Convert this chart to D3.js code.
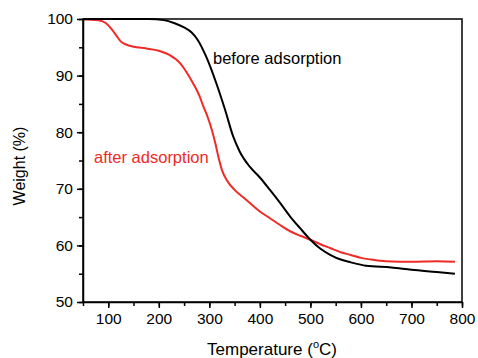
<!DOCTYPE html>
<html>
<head>
<meta charset="utf-8">
<script src="https://cdn.jsdelivr.net/npm/d3@7"></script>
<style>
  body { margin: 0; background: #fff; }
  text { font-family: "Liberation Sans", Arial, sans-serif; }
</style>
</head>
<body>
<svg id="chart" width="478" height="358"></svg>
<script>
// before adsorption (black)
let beforeTemp = [50, 100, 150, 180, 210, 230, 250, 265, 277, 294, 314, 331, 347, 360, 380, 400, 420, 440, 460, 480, 500, 520, 540, 560, 580, 610, 660, 700, 750, 786]
let beforeWeight = [100, 100, 100, 100, 99.8, 99.3, 98.5, 97.6, 96.3, 93.3, 88.6, 84.0, 79.3, 76.6, 73.9, 72.0, 69.8, 67.5, 65.1, 63.0, 61.0, 59.4, 58.3, 57.5, 57.0, 56.4, 56.1, 55.7, 55.3, 55.0]

// after adsorption (red)
let afterTemp = [50, 80, 95, 105, 115, 125, 135, 150, 175, 200, 220, 242, 255, 268, 280, 288, 297, 305, 312, 318, 325, 334, 350, 370, 400, 420, 440, 460, 480, 500, 520, 540, 560, 580, 600, 620, 650, 700, 750, 786]
let afterWeight = [99.9, 99.8, 99.3, 98.4, 97.2, 96.0, 95.5, 95.1, 94.8, 94.4, 93.7, 92.2, 90.6, 88.6, 86.5, 84.6, 82.6, 80.4, 78.0, 75.6, 73.3, 71.6, 69.8, 68.3, 66.0, 64.8, 63.6, 62.5, 61.7, 61.0, 60.2, 59.5, 58.8, 58.3, 57.8, 57.5, 57.2, 57.1, 57.2, 57.1]

let xTicks = [100, 200, 300, 400, 500, 600, 700, 800]
let yTicks = [50, 60, 70, 80, 90, 100]

let svg = d3.select("#chart")
let margin = {top: 19, right: 16, bottom: 56, left: 83}
let width = 478 - margin.left - margin.right
let height = 358 - margin.top - margin.bottom

let x = d3.scaleLinear().domain([50, 800]).range([0, width])
let y = d3.scaleLinear().domain([50, 100]).range([height, 0])

let g = svg.append("g").attr("transform", "translate(" + margin.left + "," + margin.top + ")")

// frame (top / right)
g.append("rect")
  .attr("width", width).attr("height", height)
  .attr("fill", "none").attr("stroke", "#000").attr("stroke-width", 1.5)

let line = d3.line().x(d => x(d[0])).y(d => y(d[1])).curve(d3.curveMonotoneX)

g.append("path")
  .datum(afterTemp.map((t, i) => [t, afterWeight[i]]))
  .attr("d", line).attr("fill", "none")
  .attr("stroke", "#ee2b26").attr("stroke-width", 2)

g.append("path")
  .datum(beforeTemp.map((t, i) => [t, beforeWeight[i]]))
  .attr("d", line).attr("fill", "none")
  .attr("stroke", "#000").attr("stroke-width", 2)

// minor ticks
g.append("g")
  .attr("transform", "translate(0," + height + ")")
  .call(d3.axisBottom(x).tickValues(d3.range(50, 801, 50)).tickSize(4).tickFormat(""))
  .call(a => a.select(".domain").remove())
g.append("g")
  .call(d3.axisLeft(y).tickValues(d3.range(50, 101, 5)).tickSize(4).tickFormat(""))
  .call(a => a.select(".domain").remove())

// x axis
let xAxis = g.append("g")
  .attr("transform", "translate(0," + height + ")")
  .call(d3.axisBottom(x).tickValues(xTicks).tickSize(6).tickPadding(5).tickSizeOuter(0))
xAxis.selectAll("text").attr("font-size", 15.5).attr("fill", "#000").style("font-family", "Liberation Sans, Arial, sans-serif")

// y axis
let yAxis = g.append("g")
  .call(d3.axisLeft(y).tickValues(yTicks).tickSize(6).tickPadding(4).tickSizeOuter(0))
yAxis.selectAll("text").attr("font-size", 15.5).attr("fill", "#000").style("font-family", "Liberation Sans, Arial, sans-serif")

svg.selectAll(".domain, .tick line").attr("stroke", "#000").attr("stroke-width", 1.5)

// axis titles
let xt = svg.append("text")
  .attr("x", 272).attr("y", 355)
  .attr("text-anchor", "middle").attr("font-size", 17)
xt.append("tspan").text("Temperature (")
xt.append("tspan").attr("font-size", 11).attr("dy", -7).text("o")
xt.append("tspan").attr("dy", 7).text("C)")

svg.append("text")
  .attr("transform", "translate(25,166) rotate(-90)")
  .attr("text-anchor", "middle").attr("font-size", 16)
  .text("Weight (%)")

// series labels
g.append("text")
  .attr("x", 213 - margin.left).attr("y", 64 - margin.top)
  .attr("font-size", 16.5).attr("fill", "#000")
  .text("before adsorption")

g.append("text")
  .attr("x", 94 - margin.left).attr("y", 163 - margin.top)
  .attr("font-size", 16.5).attr("fill", "#ee2b26")
  .text("after adsorption")
</script>
</body>
</html>
